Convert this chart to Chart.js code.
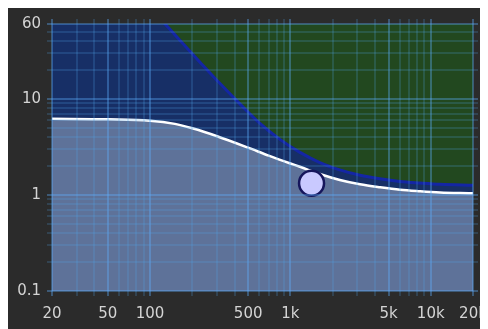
<!DOCTYPE html>
<html>
<head>
<meta charset="utf-8">
<script src="https://cdn.jsdelivr.net/npm/chart.js@4/dist/chart.umd.min.js"></script>
<style>
  html, body { overflow: hidden; }
  body { margin: 8px; background: #fff; }
  canvas { display: block; }
</style>
</head>
<body>
<canvas id="chart" width="480" height="321"></canvas>
<script>
// Response curve (white) – frequency in Hz, gain
const curveFreq = [20, 50, 100, 150, 200, 300, 500, 700, 1000, 1170, 1620, 2250, 3130, 4350, 6040, 8400, 11650, 16200, 20000];
const curveGain = [6.18, 6.11, 5.92, 5.48, 4.93, 4.08, 3.1, 2.56, 2.12, 1.96, 1.65, 1.43, 1.29, 1.2, 1.13, 1.09, 1.06, 1.045, 1.04];

// Limit curve (blue) – runs above the top of the chart at low frequencies
const limitFreq = [20, 50, 100, 128, 163, 226, 315, 440, 606, 842, 1170, 1620, 2250, 3130, 4350, 6040, 8400, 11650, 20000];
const limitGain = [1125, 264, 88, 60, 40.6, 24.2, 14.4, 8.75, 5.55, 3.78, 2.77, 2.17, 1.82, 1.6, 1.47, 1.38, 1.33, 1.29, 1.26];

// Handle point
const handleFreq = [1414];
const handleGain = [1.32];

// Grid / tick values
const xTicks = [20, 30, 40, 50, 60, 70, 80, 90, 100, 200, 300, 400, 500, 600, 700, 800, 900,
  1000, 2000, 3000, 4000, 5000, 6000, 7000, 8000, 9000, 10000, 20000];
const xLabelVals = [20, 50, 100, 500, 1000, 5000, 10000, 20000];
const xLabelText = ["20", "50", "100", "500", "1k", "5k", "10k", "20k"];

const yTicks = [0.1, 0.2, 0.3, 0.4, 0.5, 0.6, 0.7, 0.8, 0.9, 1, 2, 3, 4, 5, 6, 7, 8, 9,
  10, 20, 30, 40, 50, 60];
const yLabelVals = [0.1, 1, 10, 60];
const yLabelText = ["0.1", "1", "10", "60"];

const toPoints = (xs, ys) => xs.map((x, i) => ({ x: x, y: ys[i] }));

const gridDim = "rgba(80,165,235,0.20)";
const gridBright = "rgba(95,175,255,0.36)";

// Dark background + green area behind everything
const backdrop = {
  id: "backdrop",
  beforeDraw(chart) {
    const c = chart.ctx;
    c.save();
    c.fillStyle = "#2b2b2b";
    c.fillRect(0, 0, chart.width, chart.height);
    c.restore();
  },
  beforeDatasetsDraw(chart) {
    const a = chart.chartArea;
    const c = chart.ctx;
    c.save();
    c.fillStyle = "#22481f";
    c.fillRect(a.left, a.top, a.right - a.left, a.bottom - a.top);
    c.restore();
  }
};

function gridOpts(labelVals, onArea) {
  return {
    z: 1,
    drawOnChartArea: onArea,
    tickLength: 5,
    color: ctx => (ctx.tick && labelVals.includes(ctx.tick.value)) ? gridBright : gridDim,
    lineWidth: 2
  };
}

function logAxis(pos, min, max, ticks, labelVals, labelText, size, main) {
  return {
    type: "logarithmic",
    position: pos,
    min: min,
    max: max,
    border: { display: false },
    grid: gridOpts(labelVals, main),
    afterBuildTicks: s => { s.ticks = ticks.map(v => ({ value: v })); },
    afterFit: s => {
      if (pos === "left" || pos === "right") s.width = size; else s.height = size;
      s.paddingLeft = 0; s.paddingRight = 0; s.paddingTop = 0; s.paddingBottom = 0;
    },
    ticks: {
      display: main,
      autoSkip: false,
      maxRotation: 0,
      padding: (pos === "bottom") ? 9 : 6,
      color: "#d4d4d4",
      font: { family: "DejaVu Sans", size: 15 },
      callback: v => {
        const i = labelVals.findIndex(l => Math.abs(l - v) < l * 1e-6);
        return i >= 0 ? labelText[i] : "";
      }
    }
  };
}

new Chart(document.getElementById("chart"), {
  type: "line",
  data: {
    datasets: [
      {
        type: "scatter",
        data: toPoints(handleFreq, handleGain),
        pointRadius: 12.5,
        pointBackgroundColor: "#c9c9ff",
        pointBorderColor: "#16165c",
        pointBorderWidth: 2.5
      },
      {
        data: toPoints(curveFreq, curveGain),
        borderColor: "#ffffff",
        borderWidth: 2.5,
        backgroundColor: "#5e7299",
        fill: "start",
        pointRadius: 0,
        cubicInterpolationMode: "monotone"
      },
      {
        data: toPoints(limitFreq, limitGain),
        borderColor: "#1426a4",
        borderWidth: 3,
        backgroundColor: "#172f66",
        fill: "start",
        pointRadius: 0,
        cubicInterpolationMode: "monotone"
      }
    ]
  },
  options: {
    responsive: false,
    animation: false,
    layout: { padding: 0 },
    plugins: {
      legend: { display: false },
      tooltip: { enabled: false }
    },
    scales: {
      x: logAxis("bottom", 20, 20000, xTicks, xLabelVals, xLabelText, 38, true),
      x2: logAxis("top", 20, 20000, xTicks, xLabelVals, xLabelText, 16, false),
      y: logAxis("left", 0.1, 60, yTicks, yLabelVals, yLabelText, 44, true),
      y2: logAxis("right", 0.1, 60, yTicks, yLabelVals, yLabelText, 15, false)
    }
  },
  plugins: [backdrop]
});
</script>
</body>
</html>
